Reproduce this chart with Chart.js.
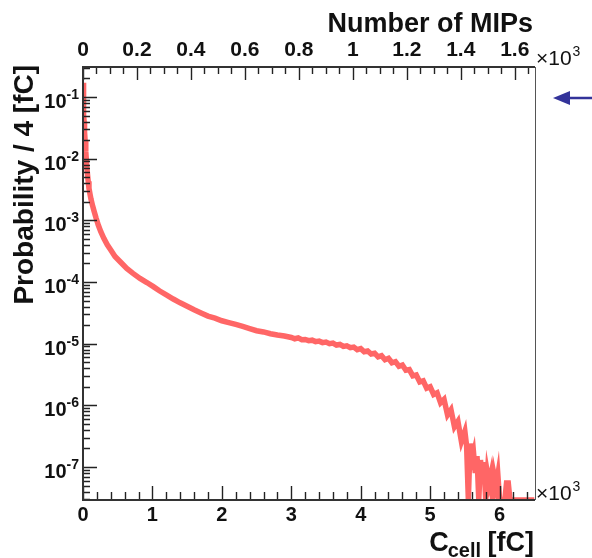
<!DOCTYPE html>
<html>
<head>
<meta charset="utf-8">
<script src="https://cdn.jsdelivr.net/npm/chart.js@4.4.1/dist/chart.umd.min.js"></script>
<style>
  html, body { margin: 0; padding: 0; background: #fff; }
  #wrap { width: 592px; height: 558px; }
</style>
</head>
<body>
<div id="wrap"><canvas id="mips" width="592" height="558"></canvas></div>
<script>
// bin positions of C_cell, in units of 10^3 fC
const chargeK = [
  0, 0.004, 0.008, 0.012, 0.016, 0.02, 0.024, 0.03, 0.04, 0.053,
  0.065, 0.075, 0.086, 0.1, 0.115, 0.134, 0.16, 0.187, 0.22, 0.255,
  0.3, 0.35, 0.4, 0.461, 0.55, 0.63, 0.72, 0.821, 0.92, 1.013, 1.1,
  1.2, 1.3, 1.4, 1.5, 1.6, 1.7, 1.8, 1.9, 2.0, 2.1, 2.2, 2.3, 2.4, 2.5,
  2.6, 2.7, 2.8, 2.9,
  3.0, 3.05, 3.1, 3.15, 3.2, 3.25, 3.3, 3.35, 3.4, 3.45, 3.5, 3.55,
  3.6, 3.65, 3.7, 3.75, 3.8, 3.85, 3.9, 3.95, 4.0, 4.05, 4.1, 4.15,
  4.2, 4.25, 4.3, 4.35, 4.4, 4.45, 4.5, 4.55, 4.6, 4.65, 4.7, 4.75,
  4.8, 4.85, 4.9, 4.95,
  5.0, 5.05, 5.1, 5.15, 5.2, 5.25, 5.3, 5.35, 5.4, 5.45,
  5.5, 5.525, 5.55, 5.575, 5.6, 5.625, 5.65, 5.675, 5.7, 5.725,
  5.75, 5.775, 5.8, 5.825, 5.85, 5.875, 5.9, 5.925, 5.95, 5.975,
  6.0, 6.025, 6.05, 6.075, 6.1, 6.125, 6.15, 6.2, 6.3, 6.4, 6.5
];
// probability / 4 fC (0 = empty bin, drawn on the axis floor)
const prob = [
  0.17, 0.1, 0.07, 0.05, 0.04, 0.032, 0.027, 0.02, 0.013, 0.0079,
  0.0055, 0.0043, 0.0033, 0.0027, 0.0022, 0.0018, 0.0014, 0.0011, 8.4e-4, 6.6e-4,
  5.1e-4, 4.0e-4, 3.3e-4, 2.6e-4, 2.05e-4, 1.66e-4, 1.38e-4, 1.14e-4, 9.8e-5, 8.4e-5, 7.2e-5,
  6.2e-5, 5.3e-5, 4.6e-5, 4.05e-5, 3.55e-5, 3.15e-5, 2.8e-5, 2.6e-5, 2.35e-5, 2.2e-5, 2.05e-5, 1.9e-5, 1.75e-5, 1.62e-5,
  1.55e-5, 1.45e-5, 1.38e-5, 1.33e-5,
  1.26e-5, 1.2e-5, 1.24e-5, 1.16e-5, 1.17e-5, 1.12e-5, 1.14e-5, 1.08e-5, 1.1e-5, 1.04e-5, 1.06e-5, 1.0e-5,
  1.02e-5, 9.5e-6, 9.7e-6, 9.0e-6, 9.2e-6, 8.6e-6, 8.8e-6, 8.0e-6, 8.3e-6, 7.4e-6, 7.6e-6, 6.8e-6,
  7.0e-6, 6.1e-6, 6.4e-6, 5.5e-6, 5.8e-6, 4.9e-6, 5.1e-6, 4.3e-6, 4.5e-6, 3.7e-6, 3.8e-6, 3.0e-6,
  3.1e-6, 2.4e-6, 2.5e-6, 1.9e-6,
  2.0e-6, 1.5e-6, 1.6e-6, 1.1e-6, 1.25e-6, 7.0e-7, 8.5e-7, 4.5e-7, 5.5e-7, 2.6e-7,
  3.8e-7, 2.2e-7, 0, 2.4e-7, 1.3e-7, 1.7e-7, 8.0e-8, 1.5e-7, 0, 1.3e-7,
  6.5e-8, 1.2e-7, 0, 8.0e-8, 5.5e-8, 7.5e-8, 0, 7.0e-8, 5.0e-8, 7.5e-8,
  0, 0, 0, 0, 5.5e-8, 5.5e-8, 0, 0, 0, 0, 0
];

const chargeTicks = [0, 1, 2, 3, 4, 5, 6];
const mipTicks = [0, 0.2, 0.4, 0.6, 0.8, 1, 1.2, 1.4, 1.6];
const mipTickLabels = ['0', '0.2', '0.4', '0.6', '0.8', '1', '1.2', '1.4', '1.6'];
const decades = [-7, -6, -5, -4, -3, -2, -1];

const X_MAX = 6.51, MIP_MAX = 1.675, Y_MIN = 2.92e-8, Y_MAX = 0.306;
const FONT = '"Liberation Sans", Arial, Helvetica, sans-serif';

// ROOT-style frame: inward ticks, superscript labels, titles, arrow
const rootFrame = {
  id: 'rootFrame',
  afterDraw(chart) {
    const { ctx, chartArea: a } = chart;
    const sx = chart.scales.x, st = chart.scales.x2, sy = chart.scales.y;
    ctx.save();

    ctx.strokeStyle = '#222';
    ctx.lineWidth = 1.4;
    ctx.beginPath();
    for (let i = 0; i * 0.2 <= X_MAX; i++) {
      const px = Math.round(sx.getPixelForValue(i * 0.2)) + 0.5;
      ctx.moveTo(px, a.bottom);
      ctx.lineTo(px, a.bottom - (i % 5 === 0 ? 14 : 8));
    }
    for (let i = 0; i * 0.05 <= MIP_MAX; i++) {
      const px = Math.round(st.getPixelForValue(i * 0.05)) + 0.5;
      ctx.moveTo(px, a.top);
      ctx.lineTo(px, a.top + (i % 4 === 0 ? 13 : 7));
    }
    for (let d = -8; d <= 0; d++) {
      for (let m = 1; m <= 9; m++) {
        const v = m * Math.pow(10, d);
        if (v < Y_MIN || v > Y_MAX) continue;
        const py = Math.round(sy.getPixelForValue(v)) + 0.5;
        ctx.moveTo(a.left, py);
        ctx.lineTo(a.left + (m === 1 ? 14 : 7), py);
      }
    }
    ctx.stroke();

    // frame
    ctx.strokeStyle = '#333';
    ctx.lineWidth = 2;
    ctx.beginPath();
    ctx.moveTo(a.right, a.top); ctx.lineTo(a.left, a.top);
    ctx.lineTo(a.left, a.bottom); ctx.lineTo(a.right, a.bottom);
    ctx.stroke();
    ctx.strokeStyle = '#555';
    ctx.lineWidth = 1;
    ctx.beginPath();
    ctx.moveTo(a.right + 0.5, a.top); ctx.lineTo(a.right + 0.5, a.bottom);
    ctx.stroke();

    // y tick labels 10^n
    ctx.fillStyle = '#111';
    ctx.textBaseline = 'alphabetic';
    ctx.textAlign = 'right';
    decades.forEach(d => {
      const py = sy.getPixelForValue(Math.pow(10, d));
      const exp = String(d);
      ctx.font = 'bold 14px ' + FONT;
      const w = ctx.measureText(exp).width;
      ctx.fillText(exp, 79, py + 2);
      ctx.font = 'bold 20px ' + FONT;
      ctx.fillText('10', 79 - w, py + 11);
    });

    // x10^3 multipliers
    const times = (x, y) => {
      ctx.textAlign = 'left';
      ctx.font = '21px ' + FONT;
      ctx.fillText('\u00d710', x, y);
      const w = ctx.measureText('\u00d710').width;
      ctx.font = '14px ' + FONT;
      ctx.fillText('3', x + w + 1, y - 9);
    };
    times(a.right + 1, 65);
    times(a.right + 1, a.bottom);

    // titles
    ctx.font = 'bold 27px ' + FONT;
    ctx.textAlign = 'right';
    ctx.fillText('Number of MIPs', 533, 32);

    ctx.save();
    ctx.translate(33, 65);
    ctx.rotate(-Math.PI / 2);
    ctx.font = 'bold 28px ' + FONT;
    ctx.textAlign = 'right';
    ctx.fillText('Probability / 4 [fC]', 0, 0);
    ctx.restore();

    ctx.textAlign = 'right';
    ctx.font = 'bold 27px ' + FONT;
    ctx.fillText('[fC]', 534, 551);
    ctx.font = 'bold 20px ' + FONT;
    ctx.fillText('cell', 481, 557);
    const wc = ctx.measureText('cell').width;
    ctx.font = 'bold 27px ' + FONT;
    ctx.fillText('C', 482 - wc, 551);

    // arrow
    ctx.strokeStyle = '#33339a';
    ctx.fillStyle = '#33339a';
    ctx.lineWidth = 2.5;
    ctx.beginPath();
    ctx.moveTo(566, 98); ctx.lineTo(592, 98);
    ctx.stroke();
    ctx.beginPath();
    ctx.moveTo(553, 98); ctx.lineTo(570, 91); ctx.lineTo(570, 105);
    ctx.closePath();
    ctx.fill();

    ctx.restore();
  }
};

new Chart(document.getElementById('mips'), {
  type: 'line',
  data: {
    datasets: [{
      // empty bins sit on the lower edge of the frame, as in ROOT
      data: chargeK.map((c, i) => ({ x: c, y: prob[i] > 0 ? prob[i] : Y_MIN })),
      borderColor: '#ff6666',
      borderWidth: 5.5,
      tension: 0,
      pointRadius: 0,
      fill: false,
      xAxisID: 'x',
      yAxisID: 'y'
    }]
  },
  options: {
    responsive: false,
    animation: false,
    devicePixelRatio: 1,
    layout: { padding: { right: 57 } },
    plugins: { legend: { display: false }, tooltip: { enabled: false } },
    scales: {
      x: {
        type: 'linear', position: 'bottom', min: 0, max: X_MAX,
        grid: { display: false, drawTicks: false }, border: { display: false },
        afterBuildTicks: s => { s.ticks = chargeTicks.map(v => ({ value: v })); },
        ticks: { font: { family: FONT, size: 20, weight: 'bold' }, color: '#111', padding: 3,
                 maxRotation: 0, autoSkip: false, callback: v => String(v) },
        afterFit: s => { s.height = 58; }
      },
      x2: {
        type: 'linear', position: 'top', min: 0, max: MIP_MAX,
        grid: { display: false, drawTicks: false }, border: { display: false },
        afterBuildTicks: s => { s.ticks = mipTicks.map(v => ({ value: v })); },
        ticks: { font: { family: FONT, size: 21, weight: 'bold' }, color: '#111', padding: 4,
                 maxRotation: 0, autoSkip: false, callback: (v, i) => mipTickLabels[i] },
        afterFit: s => { s.height = 67; }
      },
      y: {
        type: 'logarithmic', position: 'left', min: Y_MIN, max: Y_MAX,
        grid: { display: false, drawTicks: false }, border: { display: false },
        ticks: { display: false },
        afterFit: s => { s.width = 83; }
      }
    }
  },
  plugins: [rootFrame]
});
</script>
</body>
</html>
